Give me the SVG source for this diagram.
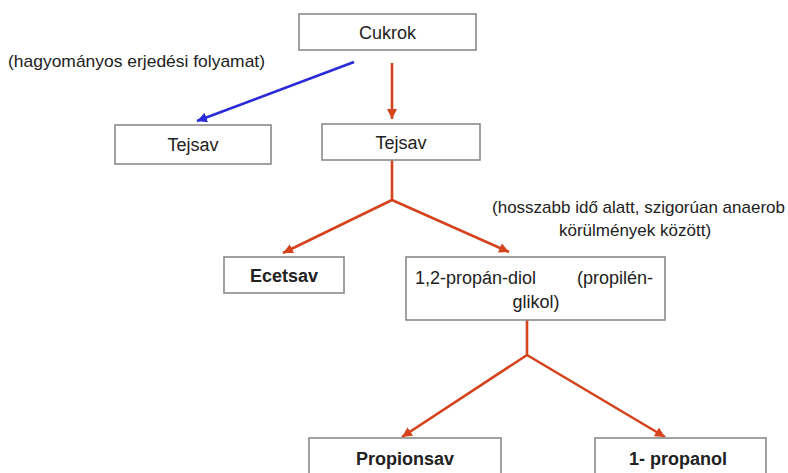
<svg xmlns="http://www.w3.org/2000/svg" width="788" height="473" viewBox="0 0 788 473">
<style>
.box{fill:#ffffff;stroke:#8a8a8a;stroke-width:1.6}
.sh{fill:none;stroke:#c4c4c4;stroke-width:1.5}
.t{font-family:"Liberation Sans",Arial,sans-serif;font-size:18px;fill:#222222}
.b{font-weight:bold}
.n{font-family:"Liberation Sans",Arial,sans-serif;font-size:17px;fill:#222222}
.red{fill:none;stroke:#d4431c;stroke-width:2.6}
.blue{fill:none;stroke:#2a2ad8;stroke-width:2.6}
</style>
<defs>
<marker id="ar" viewBox="0 0 10 10" refX="10" refY="5" markerWidth="10" markerHeight="10" markerUnits="userSpaceOnUse" orient="auto">
<path d="M0,0 L10,5 L0,10 z" fill="#d4431c"/>
</marker>
<marker id="ab" viewBox="0 0 10 10" refX="10" refY="5" markerWidth="10" markerHeight="10" markerUnits="userSpaceOnUse" orient="auto">
<path d="M0,0 L10,5 L0,10 z" fill="#2a2ad8"/>
</marker>
</defs>
<rect width="788" height="473" fill="#ffffff"/>
<g id="connectors">
<path class="blue" d="M354,62 L197,121" marker-end="url(#ab)"/>
<path class="red" d="M392,63 L392,119" marker-end="url(#ar)"/>
<path class="red" d="M392,160 L392,200"/>
<path class="red" d="M392,200 L283,253" marker-end="url(#ar)"/>
<path class="red" d="M392,200 L509,252" marker-end="url(#ar)"/>
<path class="red" d="M527,320 L527,355"/>
<path class="red" d="M527,355 L402,437" marker-end="url(#ar)"/>
<path class="red" d="M527,355 L665,437" marker-end="url(#ar)"/>
</g>
<g id="label-hagyomanyos">
<text class="n" x="8" y="67" textLength="257" lengthAdjust="spacingAndGlyphs">(hagyományos erjedési folyamat)</text>
</g>
<g id="label-hosszabb">
<text class="n" x="638.5" y="213" text-anchor="middle">(hosszabb idő alatt, szigorúan anaerob</text>
<text class="n" x="635" y="236" text-anchor="middle">körülmények között)</text>
</g>
<g id="node-cukrok">
<rect class="box" x="299" y="14" width="177" height="36"/>
<text class="t" x="387.5" y="39" text-anchor="middle">Cukrok</text>
</g>
<g id="node-tejsav-left">
<rect class="box" x="115" y="125" width="156" height="39"/>
<text class="t" x="193" y="151" text-anchor="middle">Tejsav</text>
</g>
<g id="node-tejsav-right">
<rect class="box" x="322" y="124" width="158" height="36"/>
<text class="t" x="401" y="149" text-anchor="middle">Tejsav</text>
</g>
<g id="node-ecetsav">
<rect class="box" x="224" y="257" width="120" height="36"/>
<text class="t b" x="284" y="282" text-anchor="middle">Ecetsav</text>
</g>
<g id="node-propandiol">
<rect class="box" x="406" y="257" width="259" height="63"/>
<text class="t" x="415" y="284">1,2-propán-diol</text>
<text class="t" x="653" y="284" text-anchor="end">(propilén-</text>
<text class="t" x="536" y="308" text-anchor="middle">glikol)</text>
</g>
<g id="node-propionsav">
<rect class="box" x="309" y="438" width="192" height="45"/>
<text class="t b" x="405" y="465" text-anchor="middle">Propionsav</text>
</g>
<g id="node-propanol">
<rect class="box" x="595" y="438" width="171" height="45"/>
<text class="t b" x="678" y="465" text-anchor="middle">1- propanol</text>
</g>
</svg>
